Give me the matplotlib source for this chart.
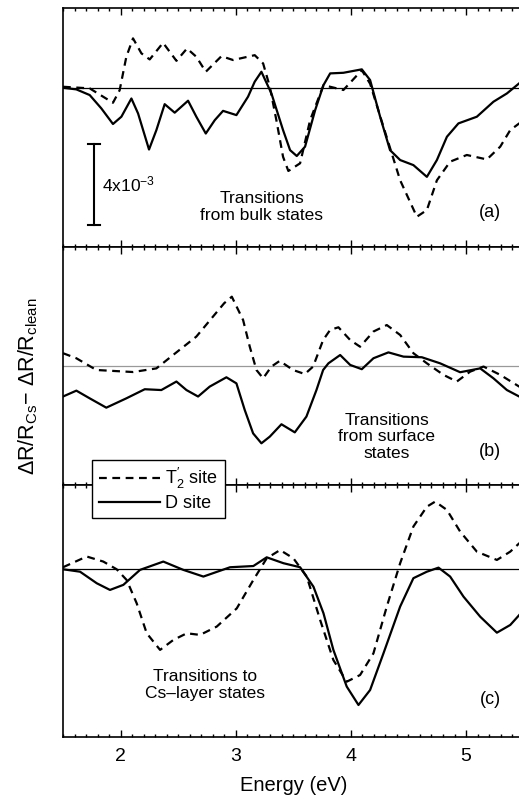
import matplotlib
matplotlib.use("Agg")
import matplotlib.pyplot as plt
from matplotlib.lines import Line2D
from matplotlib.ticker import MultipleLocator

plt.rcParams["font.family"] = ["Liberation Sans", "DejaVu Sans"]
plt.rcParams["mathtext.fontset"] = "custom"
plt.rcParams["mathtext.rm"] = "Liberation Sans"
plt.rcParams["mathtext.it"] = "Liberation Sans"

# Data (units of 1e-3)
a_sol_x = [1.5, 1.616, 1.732, 1.833, 1.934, 2.007, 2.094, 2.152, 2.247, 2.311, 2.383, 2.47,
           2.586, 2.658, 2.74, 2.818, 2.89, 3.006, 3.107, 3.165, 3.223, 3.31, 3.411, 3.472,
           3.53, 3.602, 3.69, 3.762, 3.82, 3.935, 4.095, 4.167, 4.254, 4.34, 4.428, 4.543,
           4.66, 4.747, 4.834, 4.934, 5.094, 5.238, 5.355, 5.462, 5.5]
a_sol_y = [0, -0.08, -0.36, -1.02, -1.79, -1.43, -0.53, -1.27, -3.05, -2.09, -0.81, -1.23,
           -0.64, -1.43, -2.26, -1.6, -1.14, -1.35, -0.44, 0.3, 0.79, -0.28, -2.09, -3.08,
           -3.37, -2.91, -1.1, 0.13, 0.71, 0.74, 0.91, 0.38, -1.43, -3.08, -3.57, -3.82,
           -4.4, -3.57, -2.42, -1.76, -1.43, -0.69, -0.28, 0.22, 0.4]
a_dash_x = [1.5, 1.732, 1.848, 1.934, 1.992, 2.05, 2.108, 2.181, 2.253, 2.369, 2.485, 2.577,
            2.658, 2.74, 2.876, 2.977, 3.165, 3.238, 3.296, 3.353, 3.411, 3.457, 3.559, 3.646,
            3.762, 3.935, 4.095, 4.167, 4.283, 4.428, 4.573, 4.66, 4.747, 4.862, 5.007, 5.181,
            5.297, 5.384, 5.462, 5.5]
a_dash_y = [0.05, -0.03, -0.44, -0.74, -0.12, 1.53, 2.44, 1.7, 1.4, 2.22, 1.33, 1.94,
            1.53, 0.79, 1.56, 1.37, 1.61, 1.2, 0.05, -1.6, -3.41, -4.11, -3.73, -1.6,
            0.13, -0.11, 0.87, 0.2, -1.93, -4.57, -6.37, -6.04, -4.57, -3.65, -3.32, -3.54,
            -2.91, -2.09, -1.76, -1.7]

b_dash_x = [1.5, 1.616, 1.79, 2.108, 2.311, 2.456, 2.658, 2.803, 2.9, 2.966, 3.064, 3.122,
            3.18, 3.238, 3.31, 3.382, 3.498, 3.6, 3.672, 3.759, 3.82, 3.892, 3.994, 4.08,
            4.196, 4.312, 4.428, 4.543, 4.66, 4.804, 4.92, 5.036, 5.152, 5.297, 5.462, 5.5]
b_dash_y = [0.63, 0.38, -0.2, -0.3, -0.12, 0.54, 1.45, 2.44, 3.1, 3.42, 2.27, 0.95,
            -0.2, -0.61, -0.03, 0.25, -0.2, -0.4, -0.03, 1.28, 1.78, 1.91, 1.28, 0.95,
            1.7, 2.02, 1.53, 0.63, 0.13, -0.44, -0.77, -0.28, -0.03, -0.44, -1.02, -1.1]
b_sol_x = [1.5, 1.616, 1.732, 1.876, 2.05, 2.21, 2.354, 2.485, 2.572, 2.673, 2.774, 2.919,
           3.006, 3.078, 3.151, 3.223, 3.296, 3.397, 3.513, 3.614, 3.701, 3.759, 3.805,
           3.907, 3.994, 4.095, 4.196, 4.326, 4.457, 4.616, 4.775, 4.949, 5.123, 5.238,
           5.355, 5.462, 5.5]
b_sol_y = [-1.51, -1.22, -1.6, -2.06, -1.6, -1.15, -1.19, -0.77, -1.19, -1.51, -1.02, -0.56,
           -0.86, -2.17, -3.33, -3.82, -3.49, -2.88, -3.28, -2.5, -1.19, -0.2, 0.13,
           0.54, 0.05, -0.16, 0.38, 0.67, 0.46, 0.43, 0.13, -0.31, -0.12, -0.61,
           -1.19, -1.51, -1.55]

c_dash_x = [1.50, 1.706, 1.85, 1.966, 2.053, 2.14, 2.227, 2.343, 2.458, 2.575, 2.69, 2.835,
            3.009, 3.153, 3.269, 3.385, 3.501, 3.617, 3.733, 3.848, 3.964, 4.08, 4.196,
            4.312, 4.428, 4.543, 4.66, 4.732, 4.834, 4.949, 5.094, 5.268, 5.384, 5.462, 5.5]
c_dash_y = [0.1, 0.63, 0.38, 0.0, -0.53, -1.68, -3.16, -3.98, -3.49, -3.16, -3.24, -2.83,
            -1.93, -0.53, 0.54, 0.95, 0.54, -0.36, -2.5, -4.48, -5.55, -5.22, -4.15,
            -1.84, 0.3, 2.11, 3.09, 3.34, 2.93, 1.86, 0.87, 0.46, 0.87, 1.28, 1.45]
c_sol_x = [1.50, 1.648, 1.793, 1.908, 2.024, 2.169, 2.371, 2.545, 2.719, 2.951, 3.153, 3.269,
           3.414, 3.559, 3.675, 3.762, 3.848, 3.964, 4.066, 4.167, 4.283, 4.428, 4.543,
           4.66, 4.761, 4.862, 4.978, 5.123, 5.268, 5.384, 5.462, 5.5]
c_sol_y = [0.0, -0.12, -0.69, -1.02, -0.77, -0.03, 0.38, -0.03, -0.36, 0.1, 0.16, 0.59,
           0.3, 0.1, -0.86, -2.17, -3.98, -5.79, -6.7, -5.96, -4.15, -1.84, -0.44,
           -0.12, 0.08, -0.36, -1.35, -2.34, -3.13, -2.75, -2.26, -2.0]

panel_labels = ["(a)", "(b)", "(c)"]
panel_texts = ["Transitions\nfrom bulk states", "Transitions\nfrom surface\nstates",
               "Transitions to\nCs\u2013layer states"]

W, H = 519, 808
fig = plt.figure(figsize=(W / 100, H / 100), dpi=100)

left = 63 / W
width = (523.6 - 63) / W
boxes = [(8, 246.7), (246.7, 485), (485, 737)]
ylims = [(-7.85, 3.94), (-5.88, 5.89), (-8.28, 4.16)]
zero_colors = ["black", "#999999", "black"]

axes = []
for (top, bot), yl in zip(boxes, ylims):
    ax = fig.add_axes([left, (H - bot) / H, width, (bot - top) / H])
    ax.set_xlim(1.5, 5.5)
    ax.set_ylim(*yl)
    ax.set_yticks([])
    ax.xaxis.set_major_locator(MultipleLocator(1))
    ax.xaxis.set_minor_locator(MultipleLocator(0.1))
    ax.tick_params(axis="x", which="both", direction="in", top=True, bottom=True,
                   labelbottom=False, width=1)
    ax.tick_params(axis="x", which="major", length=5)
    ax.tick_params(axis="x", which="minor", length=2.5)
    for s in ax.spines.values():
        s.set_linewidth(1.2)
    axes.append(ax)

data = [(a_dash_x, a_dash_y, a_sol_x, a_sol_y),
        (b_dash_x, b_dash_y, b_sol_x, b_sol_y),
        (c_dash_x, c_dash_y, c_sol_x, c_sol_y)]
text_pos = [(3.226, -5.9), (4.312, -3.5), (2.734, -5.71)]
label_pos = [(5.21, -6.14), (5.21, -4.25), (5.21, -6.45)]

dash_style = (0, (3.5, 2.5))
for ax, (dx, dy, sx, sy), zc, tp, lp, lab, txt in zip(
        axes, data, zero_colors, text_pos, label_pos, panel_labels, panel_texts):
    ax.axhline(0, color=zc, lw=0.9, zorder=1)
    ax.plot(dx, dy, color="black", lw=1.6, ls=dash_style, dash_joinstyle="round", zorder=3)
    ax.plot(sx, sy, color="black", lw=1.6, solid_joinstyle="round", zorder=3)
    ax.text(tp[0], tp[1], txt, ha="center", va="center", fontsize=12.5, linespacing=1.15)
    ax.text(lp[0], lp[1], lab, ha="center", va="center", fontsize=13)

# scale bar in panel (a)
axes[0].plot([1.772, 1.772], [-2.78, -6.78], color="black", lw=1.5)
axes[0].plot([1.72, 1.82], [-2.78, -2.78], color="black", lw=1.5)
axes[0].plot([1.72, 1.82], [-6.78, -6.78], color="black", lw=1.5)
axes[0].text(1.84, -4.78, r"4x10$^{-3}$", ha="left", va="center", fontsize=12.5)

axes[2].tick_params(axis="x", labelbottom=True, labelsize=14, pad=8)
axes[2].set_xlabel("Energy (eV)", fontsize=14.5, labelpad=8)

fig.text(28 / W, (H - 386) / H,
         r"$\Delta$R/R$_{\rm Cs}$" + "\u2212 " + r"$\Delta$R/R$_{\rm clean}$",
         rotation=90, ha="center", va="center", fontsize=15.5)

handles = [Line2D([], [], color="black", lw=1.6, ls=dash_style),
           Line2D([], [], color="black", lw=1.6)]
leg = fig.legend(handles, [r"T$_2^{\prime}$ site", "D site"], loc="upper left",
                 bbox_to_anchor=(92.3 / W, 1 - 460 / H), fontsize=13,
                 frameon=True, fancybox=False, framealpha=1, edgecolor="black",
                 handlelength=3.4, handletextpad=0.3, borderpad=0.35, labelspacing=0.2,
                 borderaxespad=0)
leg.get_frame().set_linewidth(1.0)

fig.savefig("out.png", dpi=100)
